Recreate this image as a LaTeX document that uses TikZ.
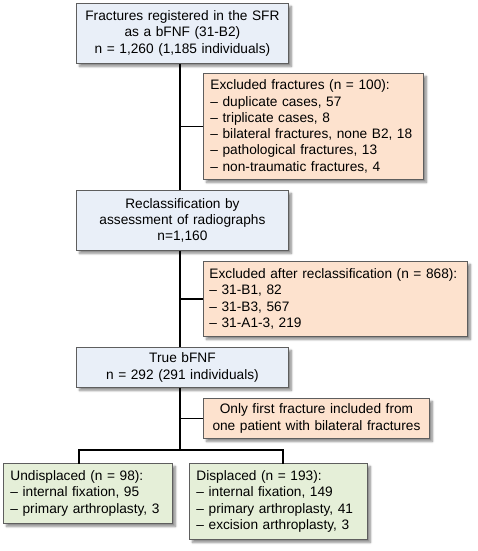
\documentclass[tikz,border=0pt]{standalone}
\usepackage{fontspec}
\setmainfont{Liberation Sans}
\usetikzlibrary{shadows.blur}
\definecolor{bluefill}{HTML}{E9EFF8}
\definecolor{orangefill}{HTML}{FDE2CE}
\definecolor{greenfill}{HTML}{E5EFD8}
\definecolor{boxline}{HTML}{5E5E5E}
\tikzset{
  box/.style={draw=boxline, line width=0.9pt, rectangle, anchor=north west,
    inner xsep=7pt, inner ysep=2pt,
    font=\fontsize{13.7}{16.3}\selectfont,
    blur shadow={shadow xshift=3pt, shadow yshift=-3pt, shadow blur steps=6, shadow opacity=45}},
  bluebox/.style={box, fill=bluefill, align=center},
  orangebox/.style={box, fill=orangefill, align=left},
  greenbox/.style={box, fill=greenfill, align=left},
  link/.style={line width=1.8pt, black}
}
\begin{document}
\begin{tikzpicture}[x=1pt, y=-1pt]
\useasboundingbox (0,0) rectangle (478,551);
\node[bluebox, text width=198pt, minimum height=60pt] (b1) at (76,3)
  {Fractures registered in the SFR\\as a bFNF (31-B2)\\n = 1,260 (1,185 individuals)};
\node[orangebox, text width=206pt, minimum height=106pt] (e1) at (203,73)
  {Excluded fractures (n = 100):\\– duplicate cases, 57\\– triplicate cases, 8\\– bilateral fractures, none B2, 18\\– pathological fractures, 13\\– non-traumatic fractures, 4};
\node[bluebox, text width=198pt, minimum height=60pt] (b2) at (76,190)
  {Reclassification by\\assessment of radiographs\\n=1,160};
\node[orangebox, inner xsep=6pt, text width=252pt, minimum height=75pt] (e2) at (203,261)
  {Excluded after reclassification (n = 868):\\– 31-B1, 82\\– 31-B3, 567\\– 31-A1-3, 219};
\node[bluebox, text width=198pt, minimum height=40pt] (b3) at (76,347)
  {True bFNF\\n = 292 (291 individuals)};
\node[orangebox, align=center, text width=212pt, minimum height=40pt] (e3) at (203,398)
  {Only first fracture included from\\one patient with bilateral fractures};
\node[greenbox, text width=155pt, minimum height=60pt] (l1) at (3,463)
  {Undisplaced (n = 98):\\– internal fixation, 95\\– primary arthroplasty, 3};
\node[greenbox, text width=164pt, minimum height=76pt] (r1) at (189,463)
  {Displaced (n = 193):\\– internal fixation, 149\\– primary arthroplasty, 41\\– excision arthroplasty, 3};
\coordinate (s) at (180,0);
\coordinate (j) at (180,450);
\coordinate (jl) at (79,450);
\coordinate (jr) at (283,450);
\draw[link] (b1.south -| s) -- (b2.north -| s);
\draw[link] (e1.west) -- (e1.west -| s);
\draw[link] (b2.south -| s) -- (b3.north -| s);
\draw[link] (e2.west) -- (e2.west -| s);
\draw[link] (b3.south -| s) -- (j);
\draw[link] (e3.west) -- (e3.west -| s);
\draw[link, line cap=rect] (l1.north -| jl) -- (jl) -- (jr) -- (r1.north -| jr);
\end{tikzpicture}
\end{document}
